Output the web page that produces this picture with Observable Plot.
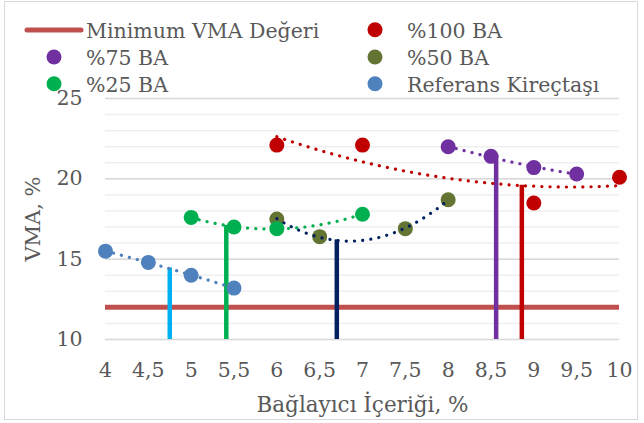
<!DOCTYPE html>
<html><head><meta charset="utf-8">
<script src="https://cdn.jsdelivr.net/npm/d3@7"></script>
<script src="https://cdn.jsdelivr.net/npm/@observablehq/plot@0.6"></script>
<style>
html,body{margin:0;padding:0;background:#fff;}
#wrap{position:relative;width:644px;height:423px;overflow:hidden;}
#frame{position:absolute;left:4px;top:1px;width:632px;height:417px;border:1.5px solid #d9d9d9;pointer-events:none;}
#legend{position:absolute;left:0;top:0;pointer-events:none;}
</style></head><body>
<div id="wrap"><div id="chart"></div><svg id="legend" width="644" height="110"></svg><div id="frame"></div></div>
<script>
// ---- data ----
const xTicks = [4, 4.5, 5, 5.5, 6, 6.5, 7, 7.5, 8, 8.5, 9, 9.5, 10];
const yTicks = [10, 15, 20, 25];
const seriesNames = ["%100 BA", "%75 BA", "%50 BA", "%25 BA", "Referans Kireçtaşı"];
const binder100 = [6, 7, 9, 10];      const vma100 = [22.1, 22.1, 18.5, 20.1];
const binder75  = [8, 8.5, 9, 9.5];   const vma75  = [22.0, 21.4, 20.7, 20.3];
const binder50  = [6, 6.5, 7.5, 8];   const vma50  = [17.5, 16.4, 16.9, 18.7];
const binder25  = [5, 5.5, 6, 7];     const vma25  = [17.6, 17.0, 16.9, 17.8];
const binderRef = [4, 4.5, 5, 5.5];   const vmaRef = [15.5, 14.8, 14.0, 13.2];
const minVMA = 12;
const minVMALabel = "Minimum VMA Değeri";
const xLabel = "Bağlayıcı İçeriği, %";
const yLabel = "VMA, %";
// optimum binder content markers (series order as seriesNames)
const optBinder = [8.86, 8.56, 6.70, 5.41, 4.75];
const optVMA    = [19.6, 21.5, 16.2, 17.1, 14.45];

// ---- styles ----
const dotColors   = ["#C00000", "#7030A0", "#647433", "#00B050", "#4F81BD"];
const trendColors = ["#C00000", "#7030A0", "#002060", "#00B050", "#4F81BD"];
const optColors   = ["#C00000", "#7030A0", "#002060", "#00B050", "#00B0F0"];
const minColor = "#C0504D";
const textColor = "#595959";
const FONT = "DejaVu Serif";
const FS = 20.5;

const xsAll = [binder100, binder75, binder50, binder25, binderRef];
const ysAll = [vma100, vma75, vma50, vma25, vmaRef];

const points = [];
seriesNames.forEach((s, i) => xsAll[i].forEach((x, j) => points.push({series: s, x, y: ysAll[i][j], color: dotColors[i]})));

// second-order polynomial (least squares) trendline, like the spreadsheet's
function fitQuad(xs, ys) {
  let S = [0,0,0,0,0], T = [0,0,0];
  xs.forEach((x, i) => { for (let k = 0; k < 5; k++) S[k] += x ** k; for (let k = 0; k < 3; k++) T[k] += ys[i] * x ** k; });
  const A = [[S[0],S[1],S[2],T[0]],[S[1],S[2],S[3],T[1]],[S[2],S[3],S[4],T[2]]];
  for (let c = 0; c < 3; c++) {
    for (let r = c + 1; r < 3; r++) { const f = A[r][c] / A[c][c]; for (let k = c; k < 4; k++) A[r][k] -= f * A[c][k]; }
  }
  const b = [0,0,0];
  for (let r = 2; r >= 0; r--) { let s = A[r][3]; for (let k = r + 1; k < 3; k++) s -= A[r][k] * b[k]; b[r] = s / A[r][r]; }
  return x => b[0] + b[1] * x + b[2] * x * x;
}
const trend = [];
seriesNames.forEach((s, i) => {
  const f = fitQuad(xsAll[i], ysAll[i]);
  const [x0, x1] = d3.extent(xsAll[i]);
  d3.range(0, 81).forEach(k => { const x = x0 + (x1 - x0) * k / 80; trend.push({series: s, x, y: f(x), color: trendColors[i]}); });
});
const opt = seriesNames.map((s, i) => ({series: s, x: optBinder[i], y: optVMA[i], color: optColors[i]}));
const minorGrid = d3.range(yTicks[0], yTicks[yTicks.length - 1] + 1, 1);

const chart = Plot.plot({
  width: 644, height: 423,
  marginLeft: 105, marginRight: 25, marginTop: 98, marginBottom: 84,
  x: {domain: [xTicks[0], xTicks[xTicks.length - 1]]},
  y: {domain: [yTicks[0], yTicks[yTicks.length - 1]]},
  color: {type: "identity"},
  style: {fontFamily: FONT, fontSize: FS + "px", color: textColor, background: "transparent"},
  marks: [
    Plot.ruleY(minorGrid, {stroke: "#efefef", strokeWidth: 1.5}),
    Plot.ruleY(yTicks, {stroke: "#d9d9d9", strokeWidth: 1.5}),
    Plot.ruleY([minVMA], {stroke: minColor, strokeWidth: 5}),
    Plot.ruleX(opt, {x: "x", y1: yTicks[0], y2: "y", stroke: "color", strokeWidth: 4.5}),
    Plot.dot(points, {x: "x", y: "y", fill: "color", r: 7.5}),
    Plot.line(trend, {x: "x", y: "y", z: "series", stroke: "color", strokeWidth: 3.2, strokeDasharray: "0.1 8.1", strokeLinecap: "round"}),
    Plot.axisX({ticks: xTicks, tickSize: 0, tickPadding: 23, tickFormat: d => String(d).replace(".", ","), label: null}),
    Plot.axisY({ticks: yTicks, tickSize: 0, tickPadding: 23, label: null}),
    Plot.axisX({ticks: [], label: xLabel, labelAnchor: "center", labelOffset: 72, labelArrow: "none", fontSize: 21.5}),
    Plot.axisY({ticks: [], label: yLabel, labelAnchor: "center", labelOffset: 80, labelArrow: "none", fontSize: 21})
  ]
});
document.getElementById("chart").appendChild(chart);

// ---- legend ----
const lg = d3.select("#legend").attr("font-family", FONT).attr("font-size", FS).attr("fill", textColor);
const rows = [37.7, 65, 91.7];
const colText = [86, 407], colDot = [54, 375];
const items = [
  {label: minVMALabel, col: 0, row: 0, type: "line", color: minColor},
  {label: seriesNames[0], col: 1, row: 0, color: dotColors[0]},
  {label: seriesNames[1], col: 0, row: 1, color: dotColors[1]},
  {label: seriesNames[2], col: 1, row: 1, color: dotColors[2]},
  {label: seriesNames[3], col: 0, row: 2, color: dotColors[3]},
  {label: seriesNames[4], col: 1, row: 2, color: dotColors[4]}
];
items.forEach(it => {
  const by = rows[it.row];
  if (it.type === "line") {
    lg.append("line").attr("x1", 27).attr("x2", 81).attr("y1", by - 7.7).attr("y2", by - 7.7)
      .attr("stroke", it.color).attr("stroke-width", 5).attr("stroke-linecap", "round");
  } else {
    lg.append("circle").attr("cx", colDot[it.col]).attr("cy", by - 8).attr("r", 7.5).attr("fill", it.color);
  }
  lg.append("text").attr("x", colText[it.col]).attr("y", by).text(it.label);
});
</script>
</body></html>
